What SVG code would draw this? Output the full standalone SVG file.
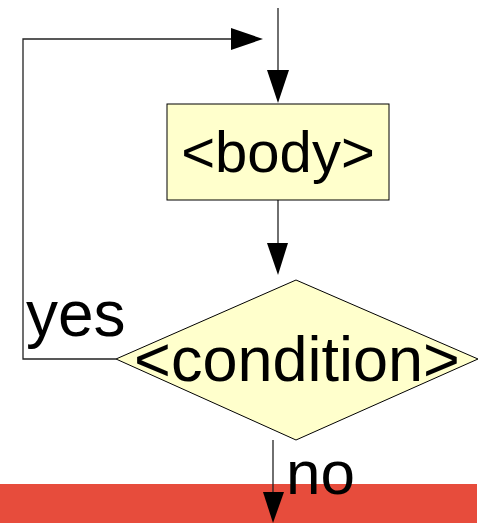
<svg xmlns="http://www.w3.org/2000/svg" width="487" height="523" viewBox="0 0 487 523">
<style>
.ln{stroke:#222;stroke-width:1.3;fill:none}
.nd{fill:#ffffcc;stroke:#000;stroke-width:1}
.t{font-family:"Liberation Sans",Arial,sans-serif;fill:#000}
.ah{fill:#000}
</style>
<rect x="0" y="484" width="477" height="39" fill="#e74c3c"/>
<g id="connectors">
<line class="ln" x1="278" y1="8" x2="278" y2="72"/>
<polygon class="ah" points="267,70 289,70 278,103"/>
<polyline class="ln" points="116,359 23,359 23,39 233,39"/>
<polygon class="ah" points="231,28 231,50 263,39"/>
<line class="ln" x1="278" y1="200" x2="278" y2="245"/>
<polygon class="ah" points="267,243 288,243 278,275"/>
<line class="ln" x1="273" y1="440" x2="273" y2="494" stroke="#666"/>
<polygon class="ah" points="263,492 284,492 273,523"/>
<text class="t" x="26" y="336" font-size="64">yes</text>
<text class="t" x="286" y="494" font-size="62">no</text>
</g>
<g id="body">
<rect class="nd" x="167" y="104" width="222" height="96"/>
<text class="t" x="278" y="172" font-size="58" text-anchor="middle">&lt;body&gt;</text>
</g>
<g id="condition">
<polygon class="nd" points="296,280 478,359 296,440 116,359"/>
<text class="t" x="297" y="381" font-size="63" text-anchor="middle">&lt;condition&gt;</text>
</g>
</svg>
